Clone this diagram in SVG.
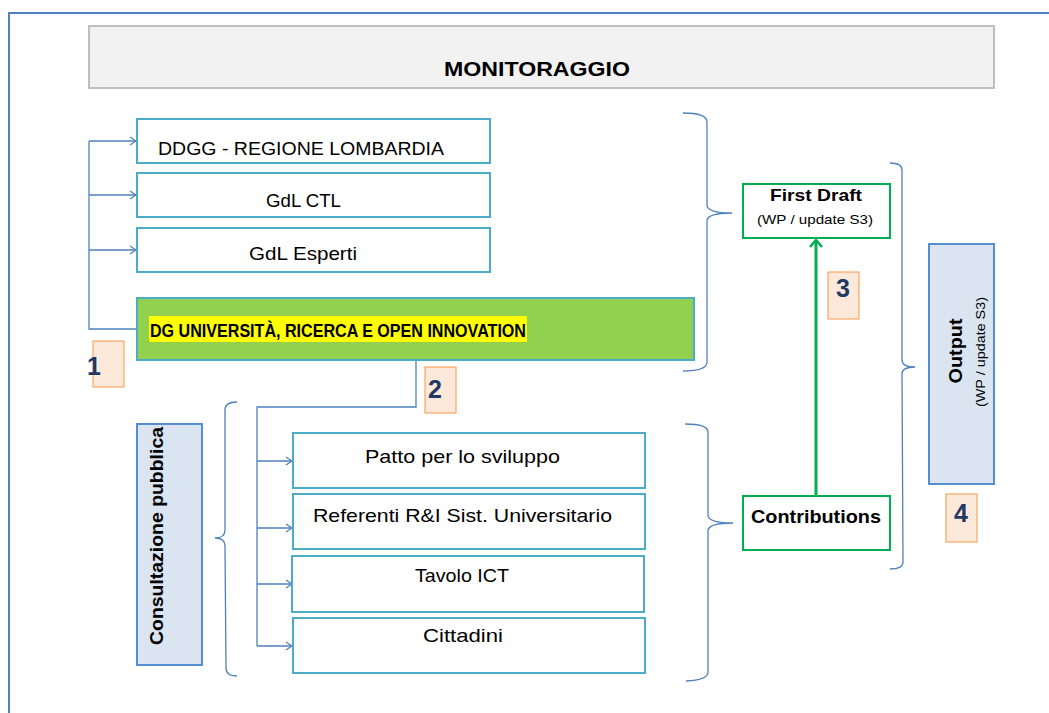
<svg xmlns="http://www.w3.org/2000/svg" width="1049" height="713" viewBox="0 0 1049 713">
<defs>
<style>
.t{font-family:"Liberation Sans",Arial,sans-serif;fill:#000}
.b{font-weight:bold}
.box{fill:#fff;stroke:#4bacc6;stroke-width:2}
.gbox{fill:#fff;stroke:#00b050;stroke-width:2}
.vbox{fill:#dbe5f1;stroke:#558ed5;stroke-width:2}
.num{fill:#fde9d9;stroke:#f79646;stroke-width:1}
.numt{font-family:"Liberation Sans",Arial,sans-serif;font-weight:bold;font-size:25px;fill:#1f3864;text-anchor:middle}
.ln{fill:none;stroke:#4f81bd;stroke-width:1.3}
.br{fill:none;stroke:#4f81bd;stroke-width:1.3}
</style>
<marker id="ab" markerWidth="10" markerHeight="10" refX="8" refY="5" orient="auto" markerUnits="userSpaceOnUse">
<path d="M2,1 L8,5 L2,9" fill="none" stroke="#4f81bd" stroke-width="1.2"/>
</marker>
<marker id="ag" markerWidth="16" markerHeight="16" refX="8" refY="8" orient="auto" markerUnits="userSpaceOnUse">
<path d="M1,2 L8,8 L1,14" fill="none" stroke="#00b050" stroke-width="2.5"/>
</marker>
</defs>
<rect width="1049" height="713" fill="#fff"/>
<rect x="9" y="13" width="1100" height="760" fill="none" stroke="#4f81bd" stroke-width="2"/>

<g id="monitoraggio">
<rect x="89" y="26" width="905" height="62" fill="#f2f2f2" stroke="#bfbfbf" stroke-width="2"/>
<text class="t b" x="537" y="76" font-size="20" text-anchor="middle" textLength="186" lengthAdjust="spacingAndGlyphs">MONITORAGGIO</text>
</g>

<g id="connectors">
<path class="ln" d="M137,329 H89 V141"/>
<line class="ln" x1="89" y1="141" x2="136" y2="141" marker-end="url(#ab)"/>
<line class="ln" x1="89" y1="195" x2="136" y2="195" marker-end="url(#ab)"/>
<line class="ln" x1="89" y1="250" x2="136" y2="250" marker-end="url(#ab)"/>
<path class="ln" d="M416,360 V407 H257 V646"/>
<line class="ln" x1="257" y1="461" x2="292" y2="461" marker-end="url(#ab)"/>
<line class="ln" x1="257" y1="528" x2="292" y2="528" marker-end="url(#ab)"/>
<line class="ln" x1="257" y1="584" x2="292" y2="584" marker-end="url(#ab)"/>
<line class="ln" x1="257" y1="646" x2="292" y2="646" marker-end="url(#ab)"/>
<path class="br" d="M683,113 Q707,113 707,122 L707,205 Q707,213 732,213 Q707,213 707,221 L707,362 Q707,371 683,371"/>
<path class="br" d="M890,163 Q902,163 902,170 L902,360 Q902,367 915,367 Q902,367 902,374 L903,562 Q903,569 890,569"/>
<path class="br" d="M685,424 Q708,424 708,432 L708,515 Q708,523 733,523 Q708,523 708,531 L708,672 Q708,680 686,681"/>
<path class="br" d="M237,402 Q225,402 225,410 L225,530 Q225,538 215,538 Q225,538 225,546 L226,668 Q226,676 237,676"/>
<line x1="816" y1="495" x2="816" y2="240" stroke="#00b050" stroke-width="3" marker-end="url(#ag)"/>
</g>

<g id="ddgg">
<rect class="box" x="137" y="119" width="353" height="44"/>
<text class="t" x="158" y="155" font-size="19" textLength="286" lengthAdjust="spacingAndGlyphs">DDGG  - REGIONE  LOMBARDIA</text>
</g>
<g id="gdl-ctl">
<rect class="box" x="137" y="173" width="353" height="44"/>
<text class="t" x="303.5" y="207" font-size="19" text-anchor="middle" textLength="75" lengthAdjust="spacingAndGlyphs">GdL CTL</text>
</g>
<g id="gdl-esperti">
<rect class="box" x="137" y="228" width="353" height="44"/>
<text class="t" x="303" y="260" font-size="19" text-anchor="middle" textLength="108" lengthAdjust="spacingAndGlyphs">GdL Esperti</text>
</g>
<g id="dg-universita">
<rect x="137" y="298" width="557" height="62" fill="#92d050" stroke="#4bacc6" stroke-width="2"/>
<rect x="149" y="316" width="378" height="26" fill="#ffff00"/>
<text class="t b" x="150" y="337" font-size="19" textLength="376" lengthAdjust="spacingAndGlyphs">DG  UNIVERSITÀ, RICERCA E OPEN INNOVATION</text>
</g>

<g id="label-1">
<rect class="num" x="93" y="341" width="31" height="46"/>
<text class="numt" x="94" y="375">1</text>
</g>
<g id="label-2">
<rect class="num" x="425" y="367" width="31" height="46"/>
<text class="numt" x="435" y="398">2</text>
</g>
<g id="label-3">
<rect class="num" x="828" y="272" width="31" height="47"/>
<text class="numt" x="843" y="297">3</text>
</g>
<g id="label-4">
<rect class="num" x="946" y="494" width="31" height="48"/>
<text class="numt" x="961" y="522">4</text>
</g>

<g id="consultazione">
<rect class="vbox" x="137" y="424" width="65" height="241"/>
<text class="t b" transform="translate(163,536) rotate(-90)" x="0" y="0" font-size="19" text-anchor="middle" textLength="218" lengthAdjust="spacingAndGlyphs">Consultazione  pubblica</text>
</g>

<g id="patto">
<rect class="box" x="293" y="433" width="352" height="55"/>
<text class="t" x="462.5" y="463" font-size="19" text-anchor="middle" textLength="195" lengthAdjust="spacingAndGlyphs">Patto per lo sviluppo</text>
</g>
<g id="referenti">
<rect class="box" x="293" y="494" width="352" height="55"/>
<text class="t" x="462.5" y="522" font-size="19" text-anchor="middle" textLength="299" lengthAdjust="spacingAndGlyphs">Referenti  R&amp;I Sist. Universitario</text>
</g>
<g id="tavolo">
<rect class="box" x="292" y="556" width="352" height="56"/>
<text class="t" x="462" y="582" font-size="19" text-anchor="middle" textLength="94" lengthAdjust="spacingAndGlyphs">Tavolo ICT</text>
</g>
<g id="cittadini">
<rect class="box" x="293" y="618" width="352" height="55"/>
<text class="t" x="463" y="642" font-size="19" text-anchor="middle" textLength="80" lengthAdjust="spacingAndGlyphs">Cittadini</text>
</g>

<g id="first-draft">
<rect class="gbox" x="743" y="184" width="147" height="54"/>
<text class="t b" x="816" y="201" font-size="17" text-anchor="middle" textLength="92" lengthAdjust="spacingAndGlyphs">First  Draft</text>
<text class="t" x="815" y="224" font-size="13" text-anchor="middle" textLength="116" lengthAdjust="spacingAndGlyphs">(WP  /  update  S3)</text>
</g>
<g id="contributions">
<rect class="gbox" x="743" y="496" width="147" height="54"/>
<text class="t b" x="816" y="523" font-size="18" text-anchor="middle" textLength="130" lengthAdjust="spacingAndGlyphs">Contributions</text>
</g>
<g id="output">
<rect class="vbox" x="929" y="244" width="65" height="240"/>
<text class="t b" transform="translate(962,351) rotate(-90)" x="0" y="0" font-size="19" text-anchor="middle" textLength="65" lengthAdjust="spacingAndGlyphs">Output</text>
<text class="t" transform="translate(985,352) rotate(-90)" x="0" y="0" font-size="13" text-anchor="middle" textLength="110" lengthAdjust="spacingAndGlyphs">(WP  /  update  S3)</text>
</g>
</svg>
